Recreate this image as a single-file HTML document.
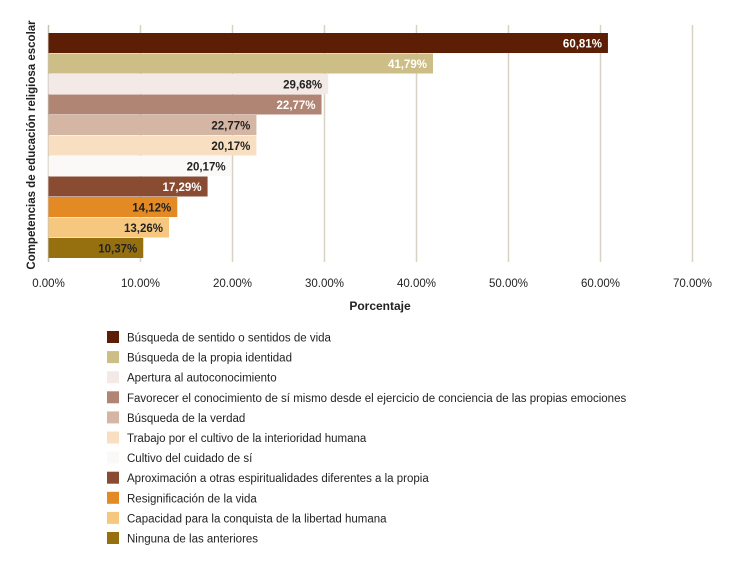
<!DOCTYPE html>
<html><head><meta charset="utf-8"><style>
body{margin:0;background:#fff;width:736px;height:559px;overflow:hidden;font-family:"Liberation Sans",sans-serif}
svg text{font-family:"Liberation Sans",sans-serif}
</style></head><body>
<svg id="c" width="736" height="559"></svg>
<script>
const categories=["Búsqueda de sentido o sentidos de vida","Búsqueda de la propia identidad","Apertura al autoconocimiento","Favorecer el conocimiento de sí mismo desde el ejercicio de conciencia de las propias emociones","Búsqueda de la verdad","Trabajo por el cultivo de la interioridad humana","Cultivo del cuidado de sí","Aproximación a otras espiritualidades diferentes a la propia","Resignificación de la vida","Capacidad para la conquista de la libertad humana","Ninguna de las anteriores"];
const values=[60.81,41.79,30.4,29.68,22.6,22.6,19.9,17.29,14.0,13.1,10.3];
const valueLabels=["60,81%","41,79%","29,68%","22,77%","22,77%","20,17%","20,17%","17,29%","14,12%","13,26%","10,37%"];
const colors=["#5c1f05","#cdbd87","#f3e9e7","#b08573","#d5b6a5","#f8dfc2","#fbf9f8","#8a4b33","#e48a25","#f6c87f","#96700f"];
const labelColors=["#fff","#fff","#222","#fff","#222","#222","#222","#fff","#222","#222","#222"];
const ticks=[0,10,20,30,40,50,60,70];
const tickLabels=["0.00%","10.00%","20.00%","30.00%","40.00%","50.00%","60.00%","70.00%"];
const svg=document.getElementById('c');const NS='http://www.w3.org/2000/svg';
function mk(t,a,p){const e=document.createElementNS(NS,t);for(const k in a)e.setAttribute(k,a[k]);(p||svg).appendChild(e);return e;}
const x=v=>48.5+v*9.2;const y0=33,bh=20.5;const y=i=>y0+i*bh;
ticks.forEach((t,i)=>{
 const l=mk('line',{x1:x(t),x2:x(t),y1:25,y2:262,stroke:i?'#d8d2c4':'#c8c2b4','stroke-width':1.5});
 
 
 const tx=mk('text',{x:x(t),y:287,'text-anchor':'middle','font-size':11.5,fill:'#222'});tx.textContent=tickLabels[i];
 
 
});
values.forEach((v,i)=>{
 const r=mk('rect',{x:x(0),y:y(i),width:x(v)-x(0),height:bh-0.5,fill:colors[i]});
 
 
 const t=mk('text',{x:x(v)-6,y:y(i)+14.5,'text-anchor':'end','font-size':11.5,'font-weight':'bold',fill:labelColors[i]});t.textContent=valueLabels[i];
 
 
 const ly=331+i*20.1;
 const s=mk('rect',{x:107,y:ly,width:12,height:12,fill:colors[i]});
 
 
 const lt=mk('text',{x:127,y:ly+10.5,'font-size':11.5,fill:'#222'});lt.textContent=categories[i];
 
 
});
const xt=mk('text',{x:380,y:310,'text-anchor':'middle','font-size':12,'font-weight':'bold',fill:'#222'});xt.textContent='Porcentaje';


const yt=mk('text',{x:0,y:0,transform:'translate(35,145) rotate(-90)','text-anchor':'middle','font-size':11.5,'font-weight':'bold',fill:'#222'});yt.textContent='Competencias de educación religiosa escolar';


</script>
</body></html>
